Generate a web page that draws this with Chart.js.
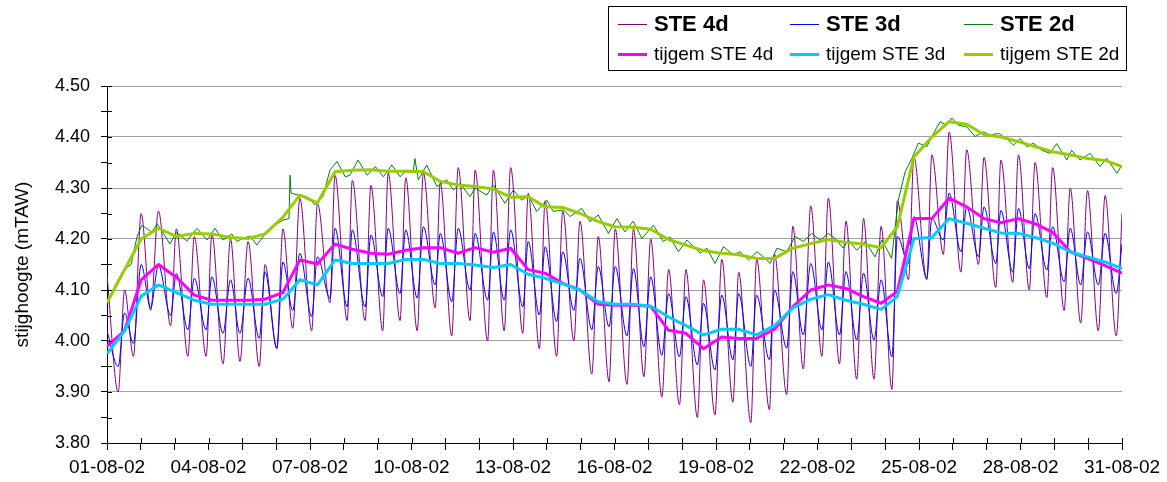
<!DOCTYPE html>
<html>
<head>
<meta charset="utf-8">
<script src="https://cdn.jsdelivr.net/npm/chart.js@4.4.1/dist/chart.umd.min.js"></script>
<style>
  html, body { margin: 0; padding: 0; background: #ffffff; }
  #wrap { width: 1167px; height: 482px; position: relative; }
</style>
</head>
<body>
<div id="wrap"><canvas id="c" width="1167" height="482"></canvas></div>
<script>
// Time axis: days since 01-08-2002 00:00
const tickDays = [0, 3, 6, 9, 12, 15, 18, 21, 24, 27, 30];
const tickLabels = ['01-08-02', '04-08-02', '07-08-02', '10-08-02', '13-08-02', '16-08-02',
                    '19-08-02', '22-08-02', '25-08-02', '28-08-02', '31-08-02'];

// High-water and low-water moments (days)
const highTimes = [0.00,0.52,1.01,1.52,2.05,2.58,3.10,3.65,4.17,4.67,5.20,5.70,6.22,6.74,7.25,7.80,8.31,8.83,9.35,9.85,
  10.38,10.88,11.42,11.93,12.45,12.95,13.47,13.98,14.52,15.02,15.56,16.07,16.60,17.11,17.63,18.17,18.67,19.20,19.73,
  20.27,20.80,21.32,21.84,22.36,22.88,23.36,23.85,24.38,24.89,25.41,25.92,26.42,26.94,27.43,27.95,28.47,28.98,29.50,30.00];
const lowTimes = [0.33,0.78,1.29,1.88,2.39,2.93,3.43,3.93,4.50,5.02,5.49,6.05,6.59,7.10,7.63,8.15,8.66,9.17,9.70,10.19,
  10.73,11.25,11.74,12.29,12.78,13.29,13.80,14.33,14.84,15.37,15.87,16.40,16.92,17.45,17.97,18.50,19.03,19.58,20.09,
  20.58,21.13,21.65,22.16,22.67,23.20,23.69,24.23,24.72,25.24,25.76,26.27,26.77,27.26,27.78,28.29,28.78,29.30,29.83];

// STE 4d: piezometric head at each high / low water (mTAW)
const ste4dHigh = [4.13,4.10,4.25,4.255,4.22,4.205,4.21,4.20,4.195,4.15,4.22,4.28,4.27,4.325,4.315,4.305,4.33,4.32,4.33,4.31,
  4.34,4.335,4.335,4.34,4.29,4.275,4.255,4.235,4.205,4.22,4.22,4.20,4.14,4.14,4.12,4.16,4.135,4.16,4.17,4.225,
  4.265,4.28,4.235,4.24,4.225,4.275,4.36,4.365,4.41,4.375,4.36,4.355,4.365,4.35,4.34,4.30,4.295,4.285,4.25];
const ste4dLow = [3.90,3.97,4.06,4.03,3.97,3.97,3.955,3.96,3.95,3.985,4.025,4.02,4.075,4.04,4.04,4.02,4.04,4.02,4.065,4.01,
  4.04,4.00,4.02,4.015,3.985,3.97,4.00,3.935,3.92,3.915,3.93,3.89,3.875,3.85,3.855,3.88,3.84,3.865,3.895,3.945,
  3.97,3.955,3.925,3.925,3.905,4.12,4.12,4.17,4.135,4.15,4.105,4.115,4.10,4.085,4.06,4.035,4.02,4.01];

// STE 3d
const ste3dHigh = [4.02,4.055,4.15,4.148,4.132,4.123,4.126,4.12,4.123,4.136,4.155,4.172,4.165,4.221,4.218,4.208,4.221,4.218,4.224,4.211,
  4.221,4.211,4.214,4.218,4.195,4.185,4.175,4.162,4.146,4.146,4.142,4.126,4.093,4.087,4.074,4.09,4.093,4.09,4.10,4.136,
  4.152,4.155,4.136,4.133,4.12,4.205,4.244,4.24,4.29,4.263,4.263,4.256,4.26,4.25,4.224,4.221,4.214,4.211,4.19];
const ste3dLow = [3.95,3.995,4.065,4.05,4.022,4.022,4.015,4.015,4.005,3.986,4.06,4.048,4.084,4.067,4.067,4.087,4.093,4.084,4.11,4.077,
  4.10,4.08,4.08,4.067,4.051,4.038,4.06,4.022,4.028,4.01,3.989,3.972,3.969,3.953,3.943,3.963,3.95,3.963,3.986,4.012,
  4.022,4.012,4.002,4.002,3.969,4.152,4.123,4.198,4.175,4.165,4.152,4.135,4.142,4.139,4.116,4.11,4.11,4.093];

// STE 2d (small tidal ripple)
const ste2dTimes = [0.00,0.18,0.33,0.50,0.71,0.89,1.03,1.18,1.33,1.48,1.68,1.86,2.04,2.16,2.36,2.66,2.96,3.19,3.43,3.69,
  3.84,4.02,4.23,4.43,4.67,4.91,5.20,5.38,5.41,5.44,5.65,5.91,6.15,6.38,6.59,6.80,7.04,7.18,7.42,7.69,
  7.93,8.17,8.42,8.66,8.86,9.05,9.10,9.20,9.45,9.75,10.04,10.24,10.43,10.73,10.88,11.22,11.42,11.76,12.01,12.26,
  12.45,12.70,13.00,13.19,13.49,13.69,14.03,14.28,14.52,14.82,15.07,15.31,15.55,15.81,16.15,16.44,16.64,16.89,17.14,17.53,
  17.73,17.97,18.22,18.51,18.71,18.96,19.21,19.40,19.60,19.80,20.09,20.34,20.58,20.83,21.08,21.32,21.52,21.76,21.91,22.16,
  22.41,22.70,22.90,23.09,23.19,23.39,23.59,23.79,23.98,24.23,24.43,24.62,24.82,24.97,25.17,25.41,25.66,25.90,26.10,26.35,
  26.59,26.79,26.99,27.19,27.38,27.63,27.87,28.07,28.37,28.51,28.76,29.06,29.35,29.55,29.85,30.00];
const ste2d = [4.075,4.10,4.12,4.14,4.15,4.205,4.227,4.22,4.213,4.23,4.21,4.19,4.212,4.208,4.196,4.221,4.198,4.221,4.198,4.21,
  4.195,4.202,4.205,4.188,4.21,4.225,4.237,4.24,4.325,4.29,4.286,4.283,4.267,4.283,4.335,4.352,4.322,4.325,4.355,4.325,
  4.342,4.322,4.345,4.322,4.335,4.33,4.358,4.316,4.345,4.303,4.316,4.296,4.309,4.283,4.30,4.286,4.306,4.27,4.296,4.276,
  4.286,4.254,4.276,4.254,4.257,4.244,4.26,4.234,4.247,4.211,4.24,4.214,4.235,4.201,4.227,4.195,4.204,4.175,4.198,4.172,
  4.182,4.152,4.185,4.169,4.175,4.159,4.175,4.165,4.152,4.182,4.175,4.205,4.195,4.211,4.198,4.211,4.201,4.182,4.198,4.178,
  4.195,4.165,4.198,4.175,4.162,4.276,4.332,4.358,4.388,4.381,4.407,4.43,4.423,4.437,4.423,4.42,4.401,4.41,4.404,4.407,
  4.397,4.384,4.397,4.381,4.388,4.374,4.368,4.387,4.355,4.374,4.355,4.368,4.342,4.358,4.329,4.345];

// Tide-averaged heads (tijgemiddelde), one value per tidal cycle
const tijgem4d = [3.99,4.02,4.12,4.15,4.125,4.09,4.08,4.08,4.08,4.082,4.095,4.159,4.151,4.19,4.18,4.172,4.17,4.178,4.183,4.183,
  4.172,4.183,4.174,4.182,4.14,4.133,4.113,4.10,4.072,4.07,4.07,4.068,4.021,4.015,3.985,4.008,4.005,4.005,4.023,4.067,
  4.10,4.11,4.103,4.087,4.074,4.097,4.24,4.24,4.28,4.263,4.24,4.232,4.24,4.23,4.213,4.175,4.162,4.148,4.133];
const tijgem3d = [3.975,4.02,4.088,4.11,4.095,4.08,4.072,4.072,4.072,4.072,4.082,4.12,4.11,4.159,4.152,4.152,4.152,4.16,4.16,4.152,
  4.152,4.149,4.144,4.15,4.131,4.123,4.112,4.10,4.077,4.072,4.072,4.068,4.047,4.03,4.012,4.023,4.023,4.012,4.03,4.065,
  4.082,4.091,4.08,4.072,4.062,4.087,4.201,4.203,4.24,4.231,4.221,4.212,4.211,4.203,4.192,4.175,4.165,4.155,4.142];
const tijgem2d = [4.075,4.14,4.20,4.221,4.205,4.211,4.21,4.203,4.201,4.21,4.243,4.286,4.271,4.332,4.335,4.336,4.333,4.333,4.332,4.313,
  4.306,4.303,4.298,4.282,4.283,4.263,4.262,4.25,4.234,4.224,4.223,4.219,4.199,4.188,4.177,4.172,4.169,4.162,4.162,4.182,
  4.191,4.199,4.193,4.19,4.183,4.224,4.361,4.40,4.43,4.425,4.405,4.40,4.391,4.381,4.371,4.365,4.358,4.354,4.342];

const FONT = '"Liberation Sans", Arial, Helvetica, sans-serif';

function interleave(a, b) {
  const out = [];
  a.forEach((v, i) => { out.push(v); if (i < b.length) out.push(b[i]); });
  return out;
}
function toXY(ts, vs) { return ts.map((t, i) => ({ x: t, y: vs[i] })); }

const tideTimes = interleave(highTimes, lowTimes);

const isMajor = v => Math.abs(v * 10 - Math.round(v * 10)) < 1e-6;

// Inner halves of the axis tick marks (ticks cross the axis lines)
const crossTicks = {
  id: 'crossTicks',
  afterDraw(chart) {
    const { ctx, chartArea, scales } = chart;
    ctx.save();
    ctx.strokeStyle = '#000';
    ctx.lineWidth = 1;
    ctx.beginPath();
    scales.y.ticks.forEach(t => {
      const y = Math.round(scales.y.getPixelForValue(t.value)) + 0.5;
      ctx.moveTo(chartArea.left, y);
      ctx.lineTo(chartArea.left + 5, y);
    });
    scales.x.ticks.forEach(t => {
      const x = Math.round(scales.x.getPixelForValue(t.value)) + 0.5;
      ctx.moveTo(x, chartArea.bottom);
      ctx.lineTo(x, chartArea.bottom - 5);
    });
    ctx.stroke();
    ctx.restore();
  }
};

// Boxed two-row legend
const boxLegend = {
  id: 'boxLegend',
  afterDraw(chart) {
    const ctx = chart.ctx;
    const ds = chart.data.datasets;
    ctx.save();
    ctx.fillStyle = '#ffffff';
    ctx.fillRect(608.5, 6.5, 518, 64);
    ctx.strokeStyle = '#000';
    ctx.lineWidth = 1;
    ctx.strokeRect(608.5, 6.5, 518, 64);
    const lineX = [618, 790, 964];
    const textX = [654, 826, 1000];
    const rows = [
      { y: 24, font: 'bold 22px ' + FONT, idx: [0, 1, 2] },
      { y: 54, font: '19px ' + FONT, idx: [3, 4, 5] }
    ];
    rows.forEach(r => {
      r.idx.forEach((di, ci) => {
        const d = ds[di];
        ctx.strokeStyle = d.borderColor;
        ctx.lineWidth = d.borderWidth;
        ctx.beginPath();
        ctx.moveTo(lineX[ci], r.y + 0.5);
        ctx.lineTo(lineX[ci] + 29, r.y + 0.5);
        ctx.stroke();
        ctx.fillStyle = '#000';
        ctx.font = r.font;
        ctx.textBaseline = 'middle';
        ctx.textAlign = 'left';
        ctx.fillText(d.label, textX[ci], r.y + 1);
      });
    });
    ctx.restore();
  }
};

Chart.defaults.font.family = FONT;
Chart.defaults.color = '#000';

new Chart(document.getElementById('c'), {
  type: 'line',
  data: {
    datasets: [
      { label: 'STE 4d', data: toXY(tideTimes, interleave(ste4dHigh, ste4dLow)),
        borderColor: '#800080', borderWidth: 1, cubicInterpolationMode: 'monotone', order: 5 },
      { label: 'STE 3d', data: toXY(tideTimes, interleave(ste3dHigh, ste3dLow)),
        borderColor: '#0000ff', borderWidth: 1, cubicInterpolationMode: 'monotone', order: 3 },
      { label: 'STE 2d', data: toXY(ste2dTimes, ste2d),
        borderColor: '#008000', borderWidth: 1, tension: 0, order: 4 },
      { label: 'tijgem STE 4d', data: toXY(highTimes, tijgem4d),
        borderColor: '#ff00ff', borderWidth: 3, tension: 0, order: 1 },
      { label: 'tijgem STE 3d', data: toXY(highTimes, tijgem3d),
        borderColor: '#00ccff', borderWidth: 3, tension: 0, order: 0 },
      { label: 'tijgem STE 2d', data: toXY(highTimes, tijgem2d),
        borderColor: '#99cc00', borderWidth: 3, tension: 0, order: 2 }
    ]
  },
  options: {
    responsive: false,
    animation: false,
    devicePixelRatio: 1,
    layout: { padding: { left: 0, right: 45, top: 86, bottom: 0 } },
    elements: { point: { radius: 0 }, line: { borderJoinStyle: 'round', fill: false } },
    plugins: { legend: { display: false }, tooltip: { enabled: false } },
    scales: {
      x: {
        type: 'linear', min: 0, max: 30,
        afterFit: s => { s.height = 39; },
        border: { display: true, color: '#000', width: 1 },
        grid: { drawOnChartArea: false, tickLength: 7, tickColor: '#000' },
        ticks: {
          stepSize: 1, autoSkip: false, maxRotation: 0, minRotation: 0, padding: 6,
          font: { size: 19 },
          callback: v => { const i = tickDays.indexOf(v); return i >= 0 ? tickLabels[i] : ''; }
        }
      },
      y: {
        min: 3.8, max: 4.5,
        afterFit: s => { s.width = 107; },
        border: { display: true, color: '#000', width: 1 },
        grid: {
          color: c => (c.tick && isMajor(c.tick.value)) ? '#a0a0a0' : 'rgba(0,0,0,0)',
          tickColor: '#000', tickLength: 6, lineWidth: 1
        },
        ticks: {
          stepSize: 0.05, padding: 11, font: { size: 18 },
          callback: v => isMajor(v) ? v.toFixed(2) : ''
        },
        title: {
          display: true, text: 'stijghoogte (mTAW)', font: { size: 19 },
          padding: { top: 11, bottom: 0 }
        }
      }
    }
  },
  plugins: [crossTicks, boxLegend]
});
</script>
</body>
</html>
